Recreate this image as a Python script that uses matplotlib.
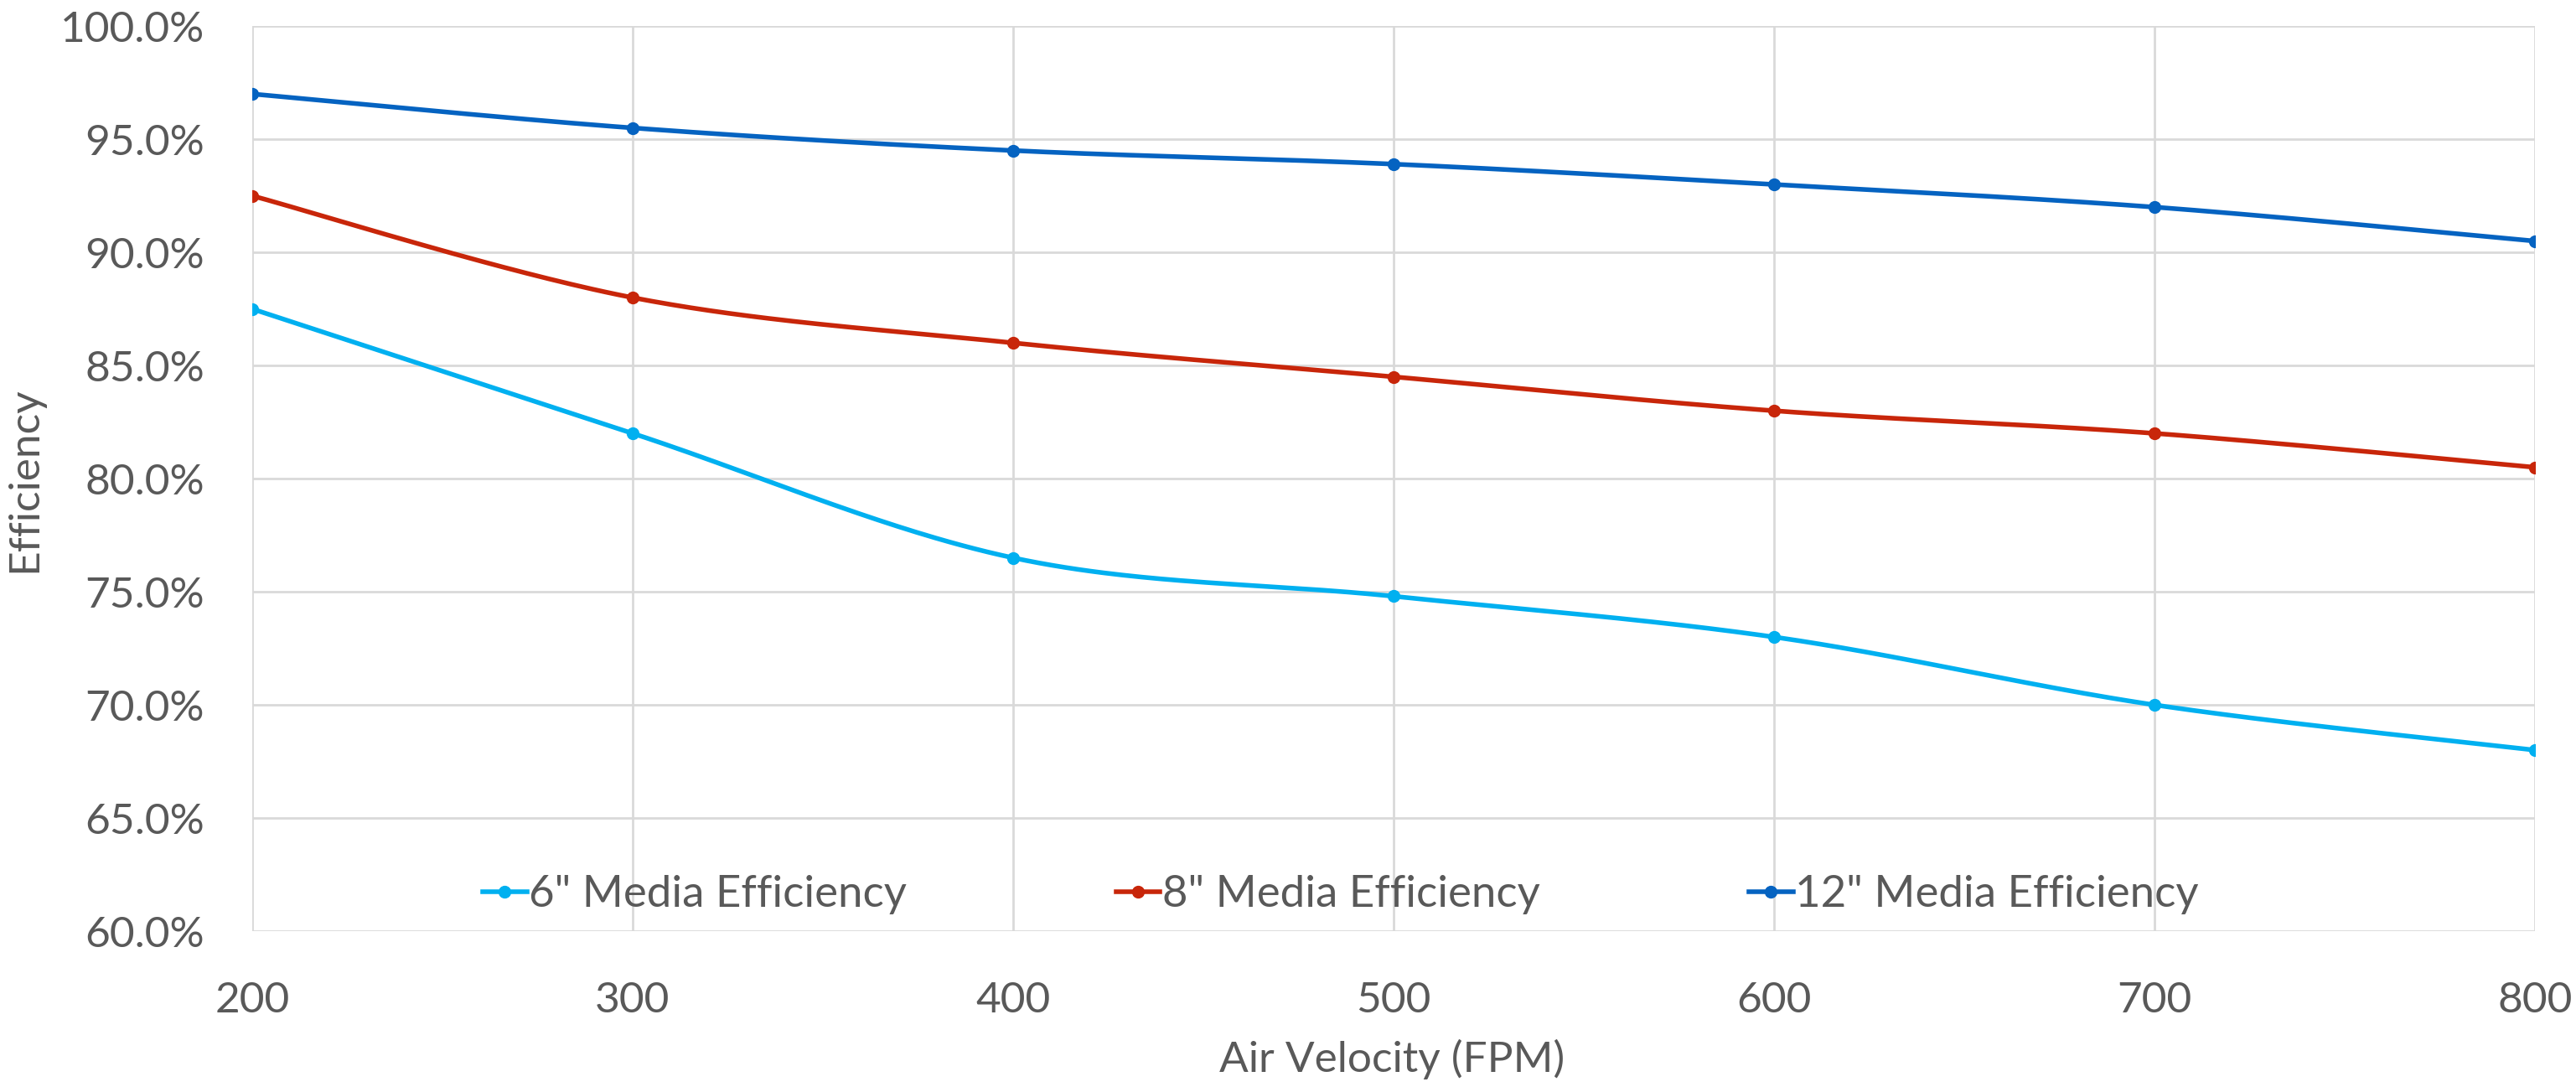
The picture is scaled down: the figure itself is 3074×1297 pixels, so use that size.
import numpy as np
import matplotlib
matplotlib.use("Agg")
import matplotlib.pyplot as plt
from matplotlib.lines import Line2D
from matplotlib.ticker import FuncFormatter

# Air velocity (FPM) and measured efficiency (%) for each media depth
air_velocity = [200, 300, 400, 500, 600, 700, 800]
eff_6in = [87.5, 82.0, 76.5, 74.8, 73.0, 70.0, 68.0]
eff_8in = [92.5, 88.0, 86.0, 84.5, 83.0, 82.0, 80.5]
eff_12in = [97.0, 95.5, 94.5, 93.9, 93.0, 92.0, 90.5]

series_names = ['6" Media Efficiency', '8" Media Efficiency', '12" Media Efficiency']
series_colors = ["#00B0F0", "#C8260A", "#0563C1"]

y_ticks = [60, 65, 70, 75, 80, 85, 90, 95, 100]
x_ticks = [200, 300, 400, 500, 600, 700, 800]

TEXT = "#595959"
GRID = "#D9D9D9"
plt.rcParams["font.family"] = ["Lato", "DejaVu Sans"]


def smooth_curve(x, y, n=60):
    """Cubic Bezier smoothing through every point (Catmull-Rom tangents)."""
    x = np.asarray(x, float)
    y = np.asarray(y, float)
    px = np.concatenate([[x[0]], x, [x[-1]]])
    py = np.concatenate([[y[0]], y, [y[-1]]])
    t = np.linspace(0, 1, n)[:, None]
    xs, ys = [], []
    for i in range(1, len(px) - 2):
        p0 = np.array([px[i], py[i]])
        p3 = np.array([px[i + 1], py[i + 1]])
        c1 = p0 + (np.array([px[i + 1], py[i + 1]]) - np.array([px[i - 1], py[i - 1]])) / 6
        c2 = p3 - (np.array([px[i + 2], py[i + 2]]) - np.array([px[i], py[i]])) / 6
        pts = ((1 - t) ** 3) * p0 + 3 * ((1 - t) ** 2) * t * c1 + 3 * (1 - t) * t ** 2 * c2 + t ** 3 * p3
        xs.append(pts[:, 0])
        ys.append(pts[:, 1])
    return np.concatenate(xs), np.concatenate(ys)


fig = plt.figure(figsize=(30.74, 12.97), dpi=100)
ax = fig.add_axes([0.0979, 0.1434, 0.8861, 0.8326])

lw = 4.0
ms = 10
handles = []
for vals, name, color in zip([eff_6in, eff_8in, eff_12in], series_names, series_colors):
    sx, sy = smooth_curve(air_velocity, vals)
    ax.plot(sx, sy, color=color, lw=lw, solid_capstyle="round", zorder=3)
    ax.plot(air_velocity, vals, linestyle="none", marker="o", ms=ms, color=color, zorder=4)
    handles.append(Line2D([], [], color=color, lw=lw, marker="o", ms=ms))

ax.set_xlim(200, 800)
ax.set_ylim(60, 100)
ax.set_xticks(x_ticks)
ax.set_yticks(y_ticks)
ax.yaxis.set_major_formatter(FuncFormatter(lambda v, _: f"{v:.1f}%"))

ax.grid(True, color=GRID, lw=2.0, zorder=0)
ax.set_axisbelow(True)
for s in ax.spines.values():
    s.set_visible(False)
ax.tick_params(axis="both", length=0, labelsize=37, colors=TEXT)
ax.tick_params(axis="y", pad=41)
ax.tick_params(axis="x", pad=43)

fig.text(0.0094, 0.5592, "Efficiency", rotation=90, ha="center", va="center",
         fontsize=37, color=TEXT)
fig.text(0.5403, 0.0255, "Air Velocity (FPM)", ha="center", va="center",
         fontsize=37, color=TEXT)

leg = fig.legend(handles, series_names, loc="center", bbox_to_anchor=(0.5205, 0.1766),
                 ncol=3, frameon=False, fontsize=38, handlelength=1.0,
                 handletextpad=0.05, columnspacing=4.72, borderpad=0)
for txt in leg.get_texts():
    txt.set_color(TEXT)

fig.savefig("out.png", dpi=100, facecolor="white")
